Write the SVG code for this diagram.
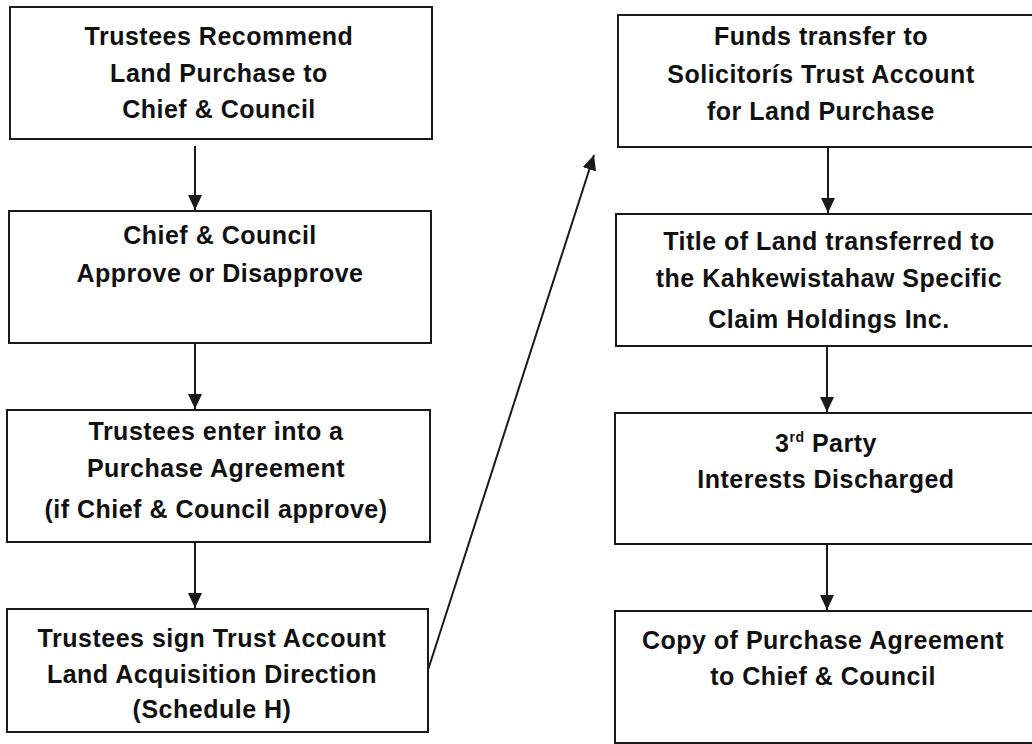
<svg xmlns="http://www.w3.org/2000/svg" width="1032" height="744" viewBox="0 0 1032 744">
<style>
.box{fill:#fff;stroke:#1a1a1a;stroke-width:2}
.t{font-family:"Liberation Sans",Arial,sans-serif;font-weight:bold;font-size:25px;letter-spacing:0.5px;fill:#111;text-anchor:middle}
.c{stroke:#1a1a1a;stroke-width:2;fill:none;marker-end:url(#ah)}
</style>
<defs>
<marker id="ah" markerWidth="16" markerHeight="16" refX="15" refY="7" orient="auto" markerUnits="userSpaceOnUse">
<path d="M0,0 L15,7 L0,14 Z" fill="#1a1a1a"/>
</marker>
</defs>
<rect width="1032" height="744" fill="#fff"/>
<g id="n1"><rect class="box" x="10" y="7" width="422" height="132"/>
<text class="t" x="219" y="45">Trustees Recommend</text>
<text class="t" x="219" y="82">Land Purchase to</text>
<text class="t" x="219" y="118">Chief &amp; Council</text></g>
<g id="n2"><rect class="box" x="9" y="211" width="422" height="132"/>
<text class="t" x="220" y="244">Chief &amp; Council</text>
<text class="t" x="220" y="282">Approve or Disapprove</text></g>
<g id="n3"><rect class="box" x="7" y="410" width="423" height="132"/>
<text class="t" x="216" y="440">Trustees enter into a</text>
<text class="t" x="216" y="477">Purchase Agreement</text>
<text class="t" x="216" y="518">(if Chief &amp; Council approve)</text></g>
<g id="n4"><rect class="box" x="7" y="609" width="421" height="123"/>
<text class="t" x="212" y="647">Trustees sign Trust Account</text>
<text class="t" x="212" y="683">Land Acquisition Direction</text>
<text class="t" x="212" y="718">(Schedule H)</text></g>
<g id="n5"><rect class="box" x="618" y="15" width="420" height="132"/>
<text class="t" x="821" y="45">Funds transfer to</text>
<text class="t" x="821" y="83">Solicitorís Trust Account</text>
<text class="t" x="821" y="120">for Land Purchase</text></g>
<g id="n6"><rect class="box" x="616" y="214" width="422" height="132"/>
<text class="t" x="829" y="250">Title of Land transferred to</text>
<text class="t" x="829" y="287">the Kahkewistahaw Specific</text>
<text class="t" x="829" y="328">Claim Holdings Inc.</text></g>
<g id="n7"><rect class="box" x="615" y="413" width="423" height="131"/>
<text class="t" x="826" y="452">3<tspan font-size="14" dy="-10">rd</tspan><tspan dy="10"> Party</tspan></text>
<text class="t" x="826" y="488">Interests Discharged</text></g>
<g id="n8"><rect class="box" x="615" y="611" width="423" height="132"/>
<text class="t" x="823" y="649">Copy of Purchase Agreement</text>
<text class="t" x="823" y="685">to Chief &amp; Council</text></g>
<g id="connectors">
<line class="c" x1="195" y1="146" x2="195" y2="210"/>
<line class="c" x1="195" y1="343" x2="195" y2="409"/>
<line class="c" x1="195" y1="542" x2="195" y2="608"/>
<line class="c" x1="428" y1="670" x2="594" y2="155"/>
<line class="c" x1="828" y1="147" x2="828" y2="213"/>
<line class="c" x1="827" y1="346" x2="827" y2="412"/>
<line class="c" x1="827" y1="544" x2="827" y2="610"/>
</g>
</svg>
